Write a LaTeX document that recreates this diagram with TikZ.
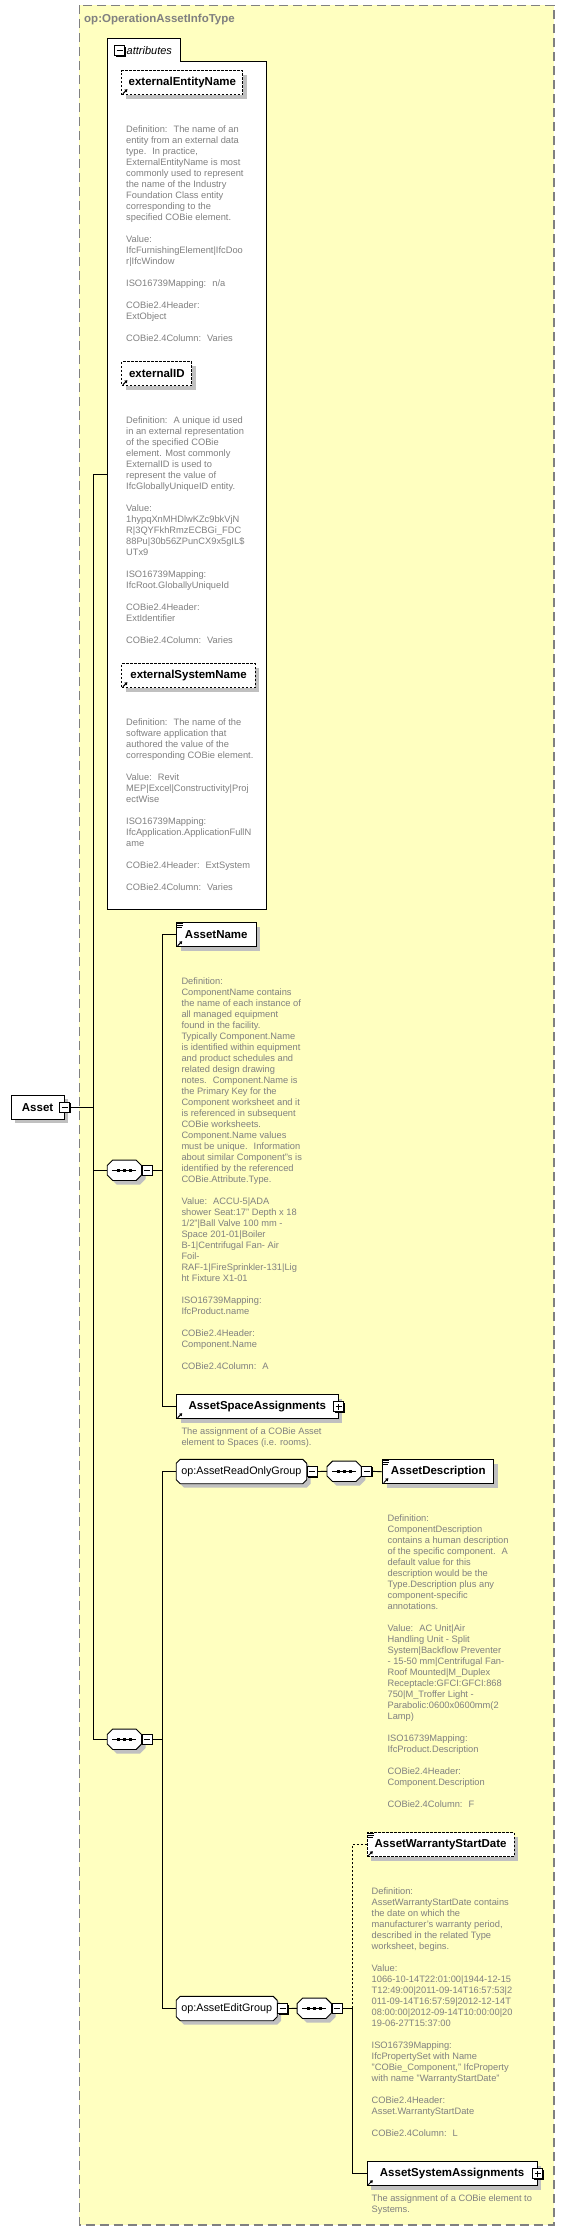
\documentclass[tikz,border=0pt]{standalone}
\usepackage{fontspec}
\setmainfont{Liberation Sans}
\usetikzlibrary{arrows.meta,positioning,shadows}

\definecolor{typefill}{RGB}{255,255,192}
\definecolor{typeline}{RGB}{128,128,128}
\definecolor{docgray}{RGB}{128,128,128}
\definecolor{shadowgray}{RGB}{192,192,192}

% outline with cut corners round a placeholder node: node, cut, offset
\newcommand\cutcorners[3]{([shift={(#3+#2,#3)}]#1.north west) -- ([shift={(#3-#2,#3)}]#1.north east)
  -- ([shift={(#3,#3+#2)}]#1.north east) -- ([shift={(#3,#3-#2)}]#1.south east)
  -- ([shift={(#3-#2,#3)}]#1.south east) -- ([shift={(#3+#2,#3)}]#1.south west)
  -- ([shift={(#3,#3-#2)}]#1.south west) -- ([shift={(#3,#3+#2)}]#1.north west) -- cycle}
\newcommand\groupshape[1]{\fill[shadowgray] \cutcorners{#1}{4}{4};
  \draw[fill=white, line width=0.9pt] \cutcorners{#1}{4}{0};}
\newcommand\seqshape[1]{\fill[shadowgray] \cutcorners{#1}{5.5}{4};
  \draw[fill=white, line width=0.9pt] \cutcorners{#1}{5.5}{0};
  \draw[line width=0.9pt] ([xshift=-12pt]#1.center) -- ([xshift=12pt]#1.center);
  \foreach \dotx in {-6,0,6} \fill ([shift={(\dotx-1.6,-1.6)}]#1.center) rectangle ++(3.2,3.2);}
% signs in the toggles, marks in the element boxes
\newcommand\tglminus[1]{\draw[line width=0.9pt] ([xshift=-3pt]#1.center) -- ([xshift=3pt]#1.center);}
\newcommand\tglplus[1]{\tglminus{#1}\draw[line width=0.9pt] ([yshift=-3pt]#1.center) -- ([yshift=3pt]#1.center);}
\newcommand\linkmark[1]{\draw[-{Triangle[length=2.6pt,width=3.4pt]}, line width=1pt] ([shift={(1.5,-1.5)}]#1.south west) -- ++(4.5,-4.5);}
\newcommand\docmark[1]{\draw[line width=0.8pt] ([shift={(0.5,1.4)}]#1.north west) -- ++(6.5,0)
  ([shift={(0.5,3.4)}]#1.north west) -- ++(6.5,0) ([shift={(0.5,5.4)}]#1.north west) -- ++(5.5,0);}

\begin{document}
\begin{tikzpicture}[x=1pt, y=-1pt,
  elembox/.style={rectangle, draw, fill=white, line width=0.9pt, minimum height=24pt, inner sep=0pt,
                  anchor=north west, font=\fontsize{11.5}{13}\selectfont\bfseries,
                  drop shadow={shadow xshift=4pt, shadow yshift=-4pt, fill=shadowgray, opacity=1}},
  optbox/.style={elembox, dash pattern=on 2.5pt off 1.5pt},
  toggle/.style={rectangle, draw, fill=white, line width=0.9pt, minimum size=10pt, inner sep=0pt,
                 drop shadow={shadow xshift=1pt, shadow yshift=-1pt, fill=black, opacity=1}},
  seqnode/.style={rectangle, minimum width=34pt, minimum height=20pt, inner sep=0pt},
  groupnode/.style={rectangle, minimum height=24pt, inner sep=0pt, anchor=north west},
  grouplabel/.style={inner sep=0pt, font=\fontsize{10.8}{13}\selectfont},
  doc/.style={anchor=north west, inner sep=0pt, align=left, text=docgray, font=\fontsize{9.3}{11}\selectfont},
  wire/.style={line width=0.9pt}
]
\path[fill=white, use as bounding box] (0,0) rectangle (565,2231);

% complex type frame
\draw[typeline, fill=typefill, line width=1.2pt, dash pattern=on 9pt off 5pt] (79.3,5.3) rectangle (554,2225);
\node[anchor=west, inner sep=0pt, text=typeline, font=\fontsize{11.5}{14}\selectfont\bfseries] (typename) at (84,19.5) {op:OperationAssetInfoType};

% attributes
\draw[fill=white, line width=0.9pt] (107.4,38.3) -- (180.2,38.3) -- (180.2,61.3) -- (266.7,61.3)
  -- (266.7,909.3) -- (107.4,909.3) -- cycle;
\node[toggle] (attrs-tgl) at (119.6,50.6) {};
\tglminus{attrs-tgl}
\node[anchor=west, inner sep=0pt, font=\fontsize{11}{13}\selectfont\itshape] (attrs-label) at (126.5,50.5) {attributes};
\coordinate (attrs) at (107.4,474);

\node[optbox, minimum width=121pt] (extentity) at (121.4,70.3) {externalEntityName};
\linkmark{extentity}
\node[doc] (extentity-doc) at (126,125.2) {Definition:~ The name of an\\
entity from an external data\\
type.~ In practice,\\
ExternalEntityName is most\\
commonly used to represent\\
the name of the Industry\\
Foundation Class entity\\
corresponding to the\\
specified COBie element.\\[11pt]
Value:\\
IfcFurnishingElement|IfcDoo\\
r|IfcWindow\\[11pt]
ISO16739Mapping:~ n/a\\[11pt]
COBie2.4Header:\\
ExtObject\\[11pt]
COBie2.4Column:~ Varies};

\node[optbox, minimum width=70pt] (extid) at (121.4,361.3) {externalID};
\linkmark{extid}
\node[doc] (extid-doc) at (126,416.2) {Definition:~ A unique id used\\
in an external representation\\
of the specified COBie\\
element. Most commonly\\
ExternalID is used to\\
represent the value of\\
IfcGloballyUniqueID entity.\\[11pt]
Value:\\
1hypqXnMHDlwKZc9bkVjN\\
R|3QYFkhRmzECBGi\_FDC\\
88Pu|30b56ZPunCX9x5gIL\$\\
UTx9\\[11pt]
ISO16739Mapping:\\
IfcRoot.GloballyUniqueId\\[11pt]
COBie2.4Header:\\
ExtIdentifier\\[11pt]
COBie2.4Column:~ Varies};

\node[optbox, minimum width=133.4pt] (extsys) at (121.4,663.3) {externalSystemName};
\linkmark{extsys}
\node[doc] (extsys-doc) at (126,718.2) {Definition:~ The name of the\\
software application that\\
authored the value of the\\
corresponding COBie element.\\[11pt]
Value:~ Revit\\
MEP|Excel|Constructivity|Proj\\
ectWise\\[11pt]
ISO16739Mapping:\\
IfcApplication.ApplicationFullN\\
ame\\[11pt]
COBie2.4Header:~ ExtSystem\\[11pt]
COBie2.4Column:~ Varies};

% root element
\node[elembox, minimum width=53.3pt] (asset) at (10.5,1094.7) {Asset};
\node[toggle] (asset-tgl) at (asset.east) {};
\tglminus{asset-tgl}

% first sequence
\node[seqnode] (seqmain) at (124.4,1170.3) {};
\seqshape{seqmain}
\node[toggle, anchor=west] (seqmain-tgl) at (seqmain.east) {};
\tglminus{seqmain-tgl}

\node[elembox, minimum width=79.3pt] (assetname) at (176.2,922.3) {AssetName};
\docmark{assetname}
\linkmark{assetname}
\node[doc] (assetname-doc) at (181.3,977.2) {Definition:\\
ComponentName contains\\
the name of each instance of\\
all managed equipment\\
found in the facility.\\
Typically Component.Name\\
is identified within equipment\\
and product schedules and\\
related design drawing\\
notes.~ Component.Name is\\
the Primary Key for the\\
Component worksheet and it\\
is referenced in subsequent\\
COBie worksheets.\\
Component.Name values\\
must be unique.~ Information\\
about similar Component"s is\\
identified by the referenced\\
COBie.Attribute.Type.\\[11pt]
Value:~ ACCU-5|ADA\\
shower Seat:17" Depth x 18\\
1/2"|Ball Valve 100 mm -\\
Space 201-01|Boiler\\
B-1|Centrifugal Fan- Air\\
Foil-\\
RAF-1|FireSprinkler-131|Lig\\
ht Fixture X1-01\\[11pt]
ISO16739Mapping:\\
IfcProduct.name\\[11pt]
COBie2.4Header:\\
Component.Name\\[11pt]
COBie2.4Column:~ A};

\node[elembox, minimum width=161.5pt] (spaceassign) at (176.2,1394.3) {AssetSpaceAssignments};
\linkmark{spaceassign}
\node[toggle] (spaceassign-tgl) at (spaceassign.east) {};
\tglplus{spaceassign-tgl}
\node[doc] (spaceassign-doc) at (181.3,1427.2) {The assignment of a COBie Asset\\
element to Spaces (i.e. rooms).};

% second sequence with the groups
\node[seqnode] (seqgroups) at (124.4,1739.3) {};
\seqshape{seqgroups}
\node[toggle, anchor=west] (seqgroups-tgl) at (seqgroups.east) {};
\tglminus{seqgroups-tgl}

\node[groupnode, minimum width=130.1pt] (readonly) at (176.2,1459.3) {};
\groupshape{readonly}
\node[grouplabel] (readonly-label) at (readonly.center) {op:AssetReadOnlyGroup};
\node[toggle, anchor=west] (readonly-tgl) at (readonly.east) {};
\tglminus{readonly-tgl}

\node[seqnode] (seqread) at (344.2,1471.3) {};
\seqshape{seqread}
\node[toggle, anchor=west] (seqread-tgl) at (seqread.east) {};
\tglminus{seqread-tgl}

\node[elembox, minimum width=111pt] (assetdesc) at (382.3,1459.3) {AssetDescription};
\docmark{assetdesc}
\linkmark{assetdesc}
\node[doc] (assetdesc-doc) at (387.4,1514.2) {Definition:\\
ComponentDescription\\
contains a human description\\
of the specific component.~ A\\
default value for this\\
description would be the\\
Type.Description plus any\\
component-specific\\
annotations.\\[11pt]
Value:~ AC Unit|Air\\
Handling Unit - Split\\
System|Backflow Preventer\\
- 15-50 mm|Centrifugal Fan-\\
Roof Mounted|M\_Duplex\\
Receptacle:GFCI:GFCI:868\\
750|M\_Troffer Light -\\
Parabolic:0600x0600mm(2\\
Lamp)\\[11pt]
ISO16739Mapping:\\
IfcProduct.Description\\[11pt]
COBie2.4Header:\\
Component.Description\\[11pt]
COBie2.4Column:~ F};

\node[groupnode, minimum width=100.6pt] (editgrp) at (176.2,1996.3) {};
\groupshape{editgrp}
\node[grouplabel] (editgrp-label) at (editgrp.center) {op:AssetEditGroup};
\node[toggle, anchor=west] (editgrp-tgl) at (editgrp.east) {};
\tglminus{editgrp-tgl}

\node[seqnode] (seqedit) at (314.3,2008.3) {};
\seqshape{seqedit}
\node[toggle, anchor=west] (seqedit-tgl) at (seqedit.east) {};
\tglminus{seqedit-tgl}

\node[optbox, minimum width=146.7pt] (warranty) at (366.8,1832.3) {AssetWarrantyStartDate};
\docmark{warranty}
\linkmark{warranty}
\node[doc] (warranty-doc) at (371.5,1887.2) {Definition:\\
AssetWarrantyStartDate contains\\
the date on which the\\
manufacturer's warranty period,\\
described in the related Type\\
worksheet, begins.\\[11pt]
Value:\\
1066-10-14T22:01:00|1944-12-15\\
T12:49:00|2011-09-14T16:57:53|2\\
011-09-14T16:57:59|2012-12-14T\\
08:00:00|2012-09-14T10:00:00|20\\
19-06-27T15:37:00\\[11pt]
ISO16739Mapping:\\
IfcPropertySet with Name\\
"COBie\_Component," IfcProperty\\
with name "WarrantyStartDate"\\[11pt]
COBie2.4Header:\\
Asset.WarrantyStartDate\\[11pt]
COBie2.4Column:~ L};

\node[elembox, minimum width=169.8pt] (sysassign) at (366.8,2161.3) {AssetSystemAssignments};
\linkmark{sysassign}
\node[toggle] (sysassign-tgl) at (sysassign.east) {};
\tglplus{sysassign-tgl}
\node[doc] (sysassign-doc) at (371.5,2194.2) {The assignment of a COBie element to\\
Systems.};

% connectors
\coordinate[right=23.5pt of asset-tgl.east] (trunk-main);
\draw[wire] (asset-tgl.east) -- (trunk-main);
\draw[wire] (trunk-main) |- (attrs);
\draw[wire] (trunk-main) |- (seqmain.west);
\draw[wire] (trunk-main) |- (seqgroups.west);
\coordinate[right=10pt of seqmain-tgl.east] (trunk-seq);
\draw[wire] (seqmain-tgl.east) -- (trunk-seq);
\draw[wire] (trunk-seq) |- (assetname.west);
\draw[wire] (trunk-seq) |- (spaceassign.west);
\coordinate[right=10pt of seqgroups-tgl.east] (trunk-grp);
\draw[wire] (seqgroups-tgl.east) -- (trunk-grp);
\draw[wire] (trunk-grp) |- (readonly.west);
\draw[wire] (trunk-grp) |- (editgrp.west);
\draw[wire] (readonly-tgl.east) -- (seqread.west);
\draw[wire] (seqread-tgl.east) -- (assetdesc.west);
\draw[wire] (editgrp-tgl.east) -- (seqedit.west);
\coordinate[right=10pt of seqedit-tgl.east] (trunk-edit);
\draw[wire] (seqedit-tgl.east) -- (trunk-edit);
\draw[wire, dash pattern=on 2pt off 2pt] (trunk-edit) |- (warranty.west);
\draw[wire] (trunk-edit) |- (sysassign.west);
\end{tikzpicture}
\end{document}
